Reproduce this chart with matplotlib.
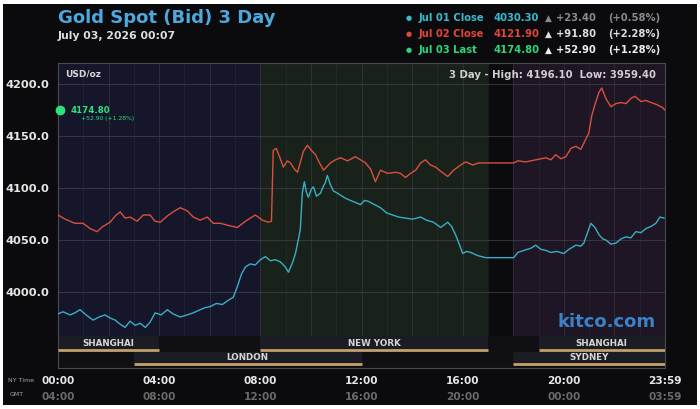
import matplotlib
matplotlib.use("Agg")
import matplotlib.pyplot as plt
from matplotlib.patches import Rectangle

# Jul 02 (red) - hours since 00:00 NY time, price
red_hours = [0.0, 0.28, 0.67, 0.99, 1.27, 1.54, 1.78, 2.06, 2.26, 2.46, 2.65, 2.85, 3.13, 3.37,
             3.64, 3.84, 4.04, 4.32, 4.55, 4.83, 5.11, 5.35, 5.62, 5.90, 6.14, 6.42, 6.73, 7.09,
             7.41, 7.80, 8.08, 8.32, 8.44, 8.51, 8.63, 8.79, 8.91, 9.07, 9.19, 9.35, 9.47, 9.70,
             9.86, 10.02, 10.18, 10.34, 10.50, 10.77, 10.97, 11.17, 11.45, 11.76, 11.96, 12.16,
             12.36, 12.55, 12.75, 13.03, 13.35, 13.54, 13.74, 13.94, 14.14, 14.34, 14.53, 14.73,
             14.93, 15.13, 15.41, 15.64, 15.92, 16.12, 16.40, 16.63, 17.03, 18.02, 18.18, 18.50,
             18.89, 19.29, 19.49, 19.68, 19.88, 20.08, 20.28, 20.48, 20.67, 20.83, 20.99, 21.11,
             21.23, 21.39, 21.50, 21.66, 21.86, 22.06, 22.26, 22.46, 22.65, 22.81, 23.05, 23.25,
             23.45, 23.68, 23.92, 23.98]
red_vals = [4074, 4070, 4066, 4066, 4061, 4058, 4063, 4067, 4073, 4077, 4071, 4072, 4068, 4074,
            4074, 4068, 4067, 4073, 4077, 4081, 4078, 4072, 4069, 4072, 4066, 4066, 4064, 4062,
            4068, 4074, 4069, 4067, 4068, 4136, 4138, 4128, 4120, 4126, 4124, 4118, 4115, 4135,
            4141, 4136, 4132, 4124, 4117, 4124, 4127, 4129, 4126, 4130, 4127, 4124,
            4118, 4106, 4117, 4114, 4115, 4114, 4110, 4114, 4117, 4124, 4127, 4122,
            4120, 4116, 4111, 4117, 4122, 4125, 4122, 4124, 4124, 4124, 4126, 4125,
            4127, 4129, 4127, 4132, 4128, 4130, 4138, 4140, 4137, 4145, 4153, 4170,
            4180, 4192, 4196, 4186, 4178, 4181, 4182, 4181, 4186, 4188, 4183, 4184,
            4182, 4180, 4177, 4175]

# Jul 01 (cyan)
blue_hours = [0.0, 0.20, 0.48, 0.67, 0.87, 1.11, 1.39, 1.62, 1.86, 2.06, 2.26, 2.46, 2.65, 2.85,
              3.05, 3.25, 3.45, 3.64, 3.84, 4.08, 4.32, 4.55, 4.83, 5.11, 5.35, 5.62, 5.82, 6.02,
              6.26, 6.50, 6.73, 6.93, 7.09, 7.25, 7.41, 7.60, 7.80, 8.00, 8.20, 8.40, 8.59, 8.79,
              8.99, 9.11, 9.27, 9.39, 9.50, 9.58, 9.66, 9.74, 9.82, 9.90, 10.02, 10.10, 10.22,
              10.38, 10.50, 10.57, 10.65, 10.77, 10.89, 11.05, 11.17, 11.37, 11.56, 11.76, 11.96,
              12.12, 12.28, 12.51, 12.75, 12.99, 13.23, 13.47, 13.74, 14.02, 14.34, 14.57, 14.85,
              15.13, 15.41, 15.56, 15.72, 15.88, 16.00, 16.16, 16.32, 16.59, 16.91, 17.03, 18.02,
              18.18, 18.42, 18.69, 18.89, 19.09, 19.29, 19.49, 19.72, 20.00, 20.20, 20.48, 20.67,
              20.79, 20.95, 21.07, 21.23, 21.39, 21.54, 21.66, 21.86, 22.06, 22.26, 22.46, 22.65,
              22.85, 23.05, 23.25, 23.45, 23.64, 23.80, 23.96]
blue_vals = [3979, 3981, 3978, 3980, 3983, 3978, 3973, 3976, 3978, 3975, 3973, 3969, 3966, 3972,
             3968, 3970, 3966, 3971, 3980, 3978, 3983, 3979, 3976, 3978, 3980, 3983, 3985, 3986,
             3989, 3988, 3992, 3995, 4005, 4017, 4024, 4027, 4026, 4031, 4034, 4030, 4031, 4029,
             4024, 4019, 4028, 4037, 4050, 4060, 4095, 4106, 4096, 4091, 4099, 4101, 4092,
             4095, 4102, 4105, 4112, 4103, 4097, 4095, 4093, 4090, 4088, 4086, 4084,
             4088, 4087, 4084, 4081, 4076, 4074, 4072, 4071, 4070, 4072, 4069, 4067,
             4062, 4067, 4063, 4055, 4045, 4037, 4039, 4038, 4035, 4033, 4033, 4033,
             4038, 4040, 4042, 4045, 4041, 4040, 4038, 4039, 4037, 4041, 4045, 4044,
             4047, 4058, 4066, 4062, 4055, 4051, 4050, 4046, 4047, 4051, 4053, 4052,
             4058, 4057, 4061, 4063, 4066, 4072, 4071]

last_price = 4174.80
y_ticks = [4000, 4050, 4100, 4150, 4200]
x_ticks = [0, 4, 8, 12, 16, 20, 24]
ny_labels = ['00:00', '04:00', '08:00', '12:00', '16:00', '20:00', '23:59']
gmt_labels = ['04:00', '08:00', '12:00', '16:00', '20:00', '00:00', '03:59']

# session name, start hour, end hour, row
sessions = [('SHANGHAI', 0, 4, 0), ('LONDON', 3, 12, 1), ('NEW YORK', 8, 17, 0),
            ('SHANGHAI', 19, 24, 0), ('SYDNEY', 18, 24, 1)]

legend_rows = [
    ('Jul 01 Close', '4030.30', '+23.40', '(+0.58%)', '#3bb8cc', '#8a8a8a'),
    ('Jul 02 Close', '4121.90', '+91.80', '(+2.28%)', '#e0463c', '#dddddd'),
    ('Jul 03 Last', '4174.80', '+52.90', '(+1.28%)', '#2ed47a', '#eeeeee'),
]

W, H = 700, 409


def fy(y):
    return 1 - y / H


fig = plt.figure(figsize=(7, 4.09), dpi=100, facecolor='white')
fig.patches.append(Rectangle((3 / W, 4 / H), 694 / W, 401 / H, transform=fig.transFigure,
                             facecolor='#0b0b0e', edgecolor='none', zorder=-10))

ax = fig.add_axes([58 / W, fy(368), 607 / W, (368 - 63) / H])
ax.set_facecolor('#0b0b0e')
ax.set_xlim(0, 24)
ax.set_ylim(3927, 4220)

# market hour shading
ax.axvspan(0, 8, color='#15162a', zorder=0, lw=0)
ax.axvspan(8, 17, color='#19221a', zorder=0, lw=0)
ax.axvspan(17, 18, color='#0b0b0e', zorder=0, lw=0)
ax.axvspan(18, 24, color='#1e1624', zorder=0, lw=0)

# grid
for h in range(1, 24):
    ax.axvline(h, color='#3a3a48', lw=0.5, alpha=0.45 if h % 2 else 0.9, zorder=1)
for v in y_ticks:
    ax.axhline(v, color='#3c3c48', lw=0.6, zorder=1)

# session rows at bottom
ax.axhspan(3927, 3957.5, color='#0f0f14', zorder=2, lw=0)
row_top = [3957.5, 3942.6]
row_line = [3944.3, 3930.4]
row_text = [3951.0, 3936.8]
for name, s, e, r in sessions:
    ax.add_patch(Rectangle((s, row_line[r]), e - s, row_top[r] - row_line[r],
                           facecolor='#1c1c25', edgecolor='none', zorder=2.5))
    ax.plot([s, e], [row_line[r]] * 2, color='#c4a06a', lw=2, solid_capstyle='butt', zorder=3)
    ax.text((s + e) / 2, row_text[r], name, color='#d6d6d6', fontsize=6.3, fontweight='bold',
            ha='center', va='center', zorder=4)

ax.plot(red_hours, red_vals, color='#d9503f', lw=1.0, zorder=5)
ax.plot(blue_hours, blue_vals, color='#3aaec6', lw=1.0, zorder=5)
ax.plot([0.08], [last_price], 'o', color='#2ee07e', ms=6, zorder=6, clip_on=False)
ax.text(0.5, last_price, '4174.80', color='#2ee07e', fontsize=6.2, fontweight='bold',
        va='center', zorder=6)
ax.text(0.9, last_price - 8.5, '+52.90 (+1.28%)', color='#2ee07e', fontsize=4.3,
        va='center', zorder=6)

ax.text(0.012, 0.965, 'USD/oz', transform=ax.transAxes, color='#d8d8d8', fontsize=6.5,
        fontweight='bold', va='center')
ax.text(0.985, 0.962, '3 Day - High: 4196.10  Low: 3959.40', transform=ax.transAxes,
        color='#cfcfcf', fontsize=7.3, fontweight='bold', va='center', ha='right')
ax.text(0.985, 3971, 'kitco.com', transform=ax.get_yaxis_transform(), color='#3d82c8',
        fontsize=13, fontweight='bold', va='center', ha='right', zorder=4)

ax.set_yticks(y_ticks)
ax.set_yticklabels([f'{v:.1f}' for v in y_ticks], color='#e6e6e6', fontsize=8.2,
                   fontweight='bold')
ax.set_xticks(x_ticks)
ax.set_xticklabels(ny_labels, color='#e6e6e6', fontsize=7.6, fontweight='bold')
ax.tick_params(length=0, pad=6)
for i, lab in enumerate(gmt_labels):
    ax.text(x_ticks[i], -0.095, lab, transform=ax.get_xaxis_transform(), color='#6a6a6a',
            fontsize=7.6, fontweight='bold', ha='center', va='center')
for sp in ax.spines.values():
    sp.set_color('#4a4a52')
    sp.set_linewidth(0.8)

fig.text(8 / W, fy(380), 'NY Time', color='#a8a8a8', fontsize=4.5, va='center')
fig.text(10 / W, fy(394), 'GMT', color='#a8a8a8', fontsize=4.5, va='center')

# header
fig.text(58 / W, fy(18), 'Gold Spot (Bid) 3 Day', color='#4ea8dc', fontsize=13,
         fontweight='bold', va='center')
fig.text(58 / W, fy(36), 'July 03, 2026 00:07', color='#dddddd', fontsize=7.8,
         fontweight='bold', va='center')

for i, (lab, price, chg, pct, col, ccol) in enumerate(legend_rows):
    y = fy(18 + i * 16)
    fig.text(409 / W, y, '\u25cf', color=col, fontsize=5, va='center', ha='center')
    fig.text(418 / W, y, lab, color=col, fontsize=7.2, fontweight='bold', va='center')
    fig.text(493 / W, y, price, color=col, fontsize=7.2, fontweight='bold', va='center')
    fig.text(545 / W, y, '\u25b2', color=ccol, fontsize=6.5, va='center')
    fig.text(556 / W, y, chg, color=ccol, fontsize=7.2, fontweight='bold', va='center')
    fig.text(608 / W, y, pct, color=ccol, fontsize=7.2, fontweight='bold', va='center')

fig.savefig('out.png', dpi=100, facecolor=fig.get_facecolor())
